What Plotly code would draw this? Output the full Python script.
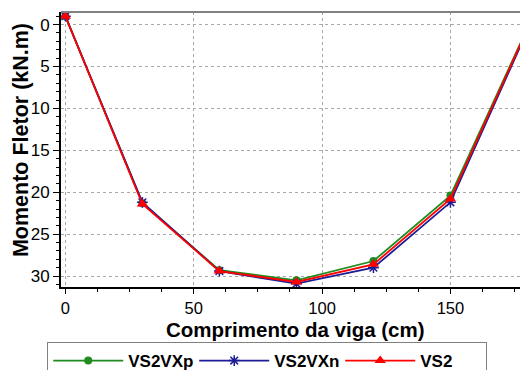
import plotly.graph_objects as go

x_cm = [0, 30, 60, 90, 120, 150, 180]
vs2vxp = [-1.0, 21.3, 29.3, 30.5, 28.2, 20.4, 0.4]
vs2vxn = [-1.0, 21.2, 29.4, 30.9, 29.0, 21.2, 0.7]
vs2 = [-1.0, 21.4, 29.4, 30.7, 28.6, 20.8, 0.5]

series_names = ["VS2VXp", "VS2VXn", "VS2"]
x_title = "Comprimento da viga (cm)"
y_title = "Momento Fletor (kN.m)"

fig = go.Figure()
fig.add_trace(go.Scatter(x=x_cm, y=vs2vxp, name=series_names[0], mode="lines+markers",
                         line=dict(color="#1e8c1e", width=1.8),
                         marker=dict(symbol="circle", size=8, color="#1e8c1e")))
fig.add_trace(go.Scatter(x=x_cm, y=vs2vxn, name=series_names[1], mode="lines+markers",
                         line=dict(color="#1c1c96", width=1.8),
                         marker=dict(symbol="asterisk-open", size=9,
                                     line=dict(color="#1c1c96", width=1.5))))
fig.add_trace(go.Scatter(x=x_cm, y=vs2, name=series_names[2], mode="lines+markers",
                         line=dict(color="#ff0000", width=1.8),
                         marker=dict(symbol="triangle-up", size=10, color="#ff0000")))

font_family = "Liberation Sans, Arial, sans-serif"

fig.update_layout(
    width=520, height=370,
    margin=dict(l=61, r=0, t=12, b=83, autoexpand=False),
    paper_bgcolor="white", plot_bgcolor="white",
    font=dict(family=font_family, color="black", size=17),
    showlegend=True,
    legend=dict(orientation="h", x=-0.03, xanchor="left", y=-0.2, yanchor="top",
                bordercolor="#808080", borderwidth=1, bgcolor="white",
                font=dict(size=17, family=font_family, weight="bold"),
                entrywidth=61, itemwidth=70, tracegroupgap=0),
    xaxis=dict(range=[-1.7, 177.1], tickvals=[0, 50, 100, 150],
               showgrid=True, gridcolor="#a8a8a8", griddash="dot", gridwidth=1,
               zeroline=False, showline=True, linecolor="black", linewidth=2,
               ticks="outside", ticklen=5, tickcolor="black", tickwidth=1,
               minor=dict(dtick=12.5, tick0=0, ticks="outside", ticklen=3, tickcolor="black", showgrid=False),
               tickfont=dict(size=16.5)),
    yaxis=dict(range=[31.3, -1.5], tickvals=[0, 5, 10, 15, 20, 25, 30],
               showgrid=True, gridcolor="#a8a8a8", griddash="dot", gridwidth=1,
               zeroline=False, showline=True, linecolor="black", linewidth=2,
               ticks="outside", ticklen=6, tickcolor="black", tickwidth=1,
               minor=dict(dtick=1, tick0=0, ticks="outside", ticklen=3, tickcolor="black", showgrid=False),
               tickfont=dict(size=17)),
    shapes=[dict(type="line", xref="paper", yref="paper", x0=0, x1=1, y0=1, y1=1,
                 line=dict(color="#808080", width=2))],
    annotations=[
        dict(text="<b>%s</b>" % x_title, xref="paper", yref="paper", x=0.511, y=-0.156,
             xanchor="center", yanchor="middle", showarrow=False, font=dict(size=20.5)),
        dict(text="<b>%s</b>" % y_title, xref="paper", yref="paper", x=-0.087, y=0.5345,
             xanchor="center", yanchor="middle", textangle=-90, showarrow=False, font=dict(size=21.5)),
    ],
)

fig.write_html("out.html", config={"displayModeBar": False},
               post_script="document.body.style.margin='0';document.body.style.overflow='hidden';")
